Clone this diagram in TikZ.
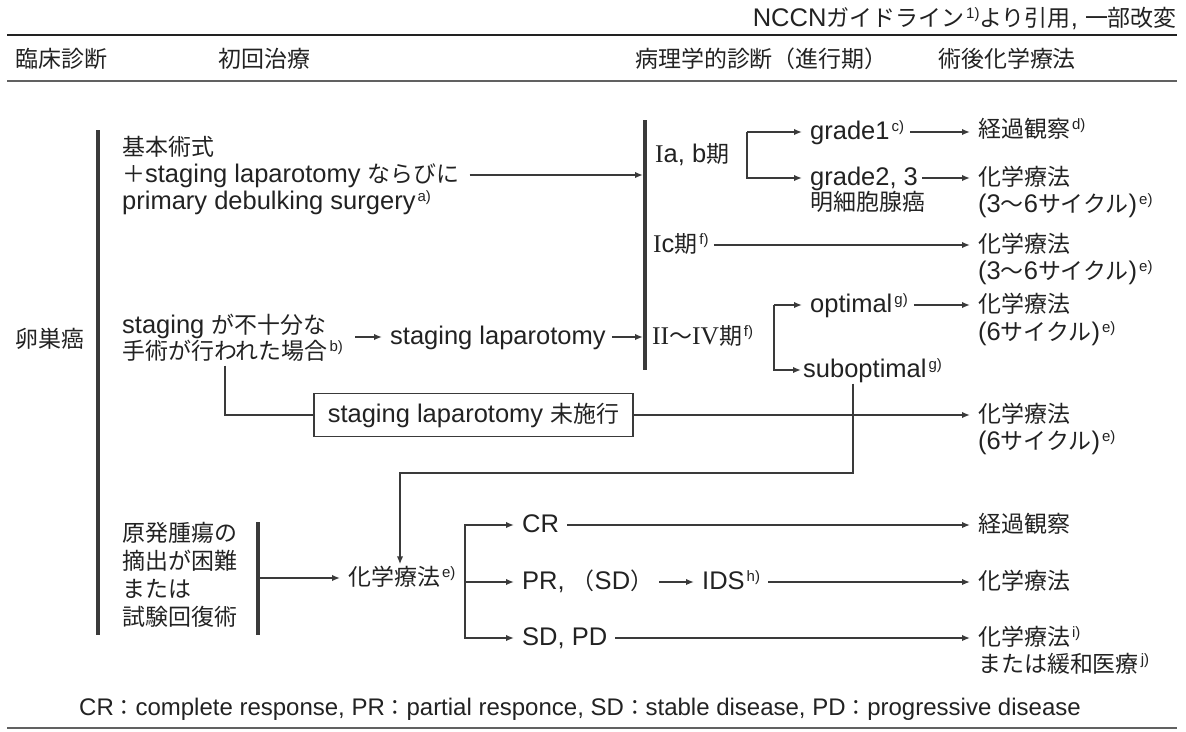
\documentclass[tikz,border=0pt]{standalone}
\usepackage{fontspec}
\setmainfont{Liberation Sans}
\newfontfamily\jp[Scale=0.9]{Noto Sans CJK JP}
\newfontfamily\ser{Liberation Serif}
\usetikzlibrary{arrows.meta}
\newcommand{\J}[1]{{\jp #1}}
\newcommand{\sups}[1]{\hspace{2pt}\raisebox{8pt}{\fontsize{15}{15}\selectfont #1}}
% cycle count label, e.g. (3~6 cycles)
\newcommand{\cyc}[1]{(#1\J{サイクル})\sups{e)}}
\definecolor{ink}{HTML}{222222}
\definecolor{wire}{HTML}{3A3A3A}
\tikzset{
  tx/.style={anchor=west, inner xsep=0pt, inner ysep=1pt, text height=20pt,
             text depth=5pt, text=ink, font=\fontsize{25.5}{30}\selectfont},
  arr/.style={draw=wire, line width=1.8pt, -{Latex[length=8pt,width=6.5pt]}},
  arrt/.style={arr, shorten >=8pt},
  ln/.style={draw=wire, line width=1.8pt},
  bar/.style={draw=wire, line width=3.5pt},
  rulethick/.style={draw=ink, line width=1.8pt},
  rulethin/.style={draw=wire!80, line width=1.1pt},
  framebox/.style={tx, draw=wire, line width=1.6pt, inner xsep=14pt,
                   minimum height=43pt}
}
\begin{document}
\begin{tikzpicture}[x=1pt,y=-1pt]
\useasboundingbox (0,0) rectangle (1186,731);

% --- header ---
\node[tx, anchor=east] (src) at (1177,19) {NCCN\J{ガイドライン}\sups{1)}\J{より引用}, \J{一部改変}};
\coordinate (rTL) at (7,35);  \coordinate (rTR) at (1177,35);
\coordinate (rML) at (7,81);  \coordinate (rMR) at (1177,81);
\coordinate (rBL) at (7,728); \coordinate (rBR) at (1177,728);
\draw[rulethick] (rTL) -- (rTR);
\draw[rulethin] (rML) -- (rMR);
\draw[rulethin] (rBL) -- (rBR);
\node[tx] (h1) at (15,60)  {\J{臨床診断}};
\node[tx] (h2) at (218,60) {\J{初回治療}};
\node[tx] (h3) at (635,60) {\J{病理学的診断（進行期）}};
\node[tx] (h4) at (938,60) {\J{術後化学療法}};

% --- clinical diagnosis ---
\node[tx] (ov) at (15,340) {\J{卵巣癌}};
\coordinate (b1t) at (98,130); \coordinate (b1b) at (98,635);
\draw[bar] (b1t) -- (b1b);

% --- primary treatment ---
\node[tx] (t1a) at (122,148) {\J{基本術式}};
\node[tx] (t1b) at (122,175) {\J{＋}staging laparotomy \J{ならびに}};
\node[tx] (t1c) at (122,202) {primary debulking surgery\sups{a)}};
\node[tx] (t2a) at (122,326) {staging \J{が不十分な}};
\node[tx] (t2b) at (122,352) {\J{手術が行われた場合}\sups{b)}};
\node[tx] (sl) at (390,337) {staging laparotomy};
\node[framebox] (bx) at (313,415) {staging laparotomy \J{未施行}};

\node[tx] (g3a) at (122,534) {\J{原発腫瘍の}};
\node[tx] (g3b) at (122,562) {\J{摘出が困難}};
\node[tx] (g3c) at (122,590) {\J{または}};
\node[tx] (g3d) at (122,618) {\J{試験回復術}};
\coordinate (b3t) at (258,522); \coordinate (b3b) at (258,635);
\draw[bar] (b3t) -- (b3b);
\node[tx] (ch) at (348,578) {\J{化学療法}\sups{e)}};

% --- pathological stage ---
\coordinate (b2t) at (645,120); \coordinate (b2b) at (645,370);
\coordinate (b2x) at (643,0);
\draw[bar] (b2t) -- (b2b);
\node[tx] (iab) at (655,155) {{\ser I}a, b\J{期}};
\node[tx] (ic)  at (653,245) {{\ser I}c\J{期}\sups{f)}};
\node[tx] (st)  at (652,337) {{\ser II}\J{〜}{\ser IV}\J{期}\sups{f)}};

\node[tx] (g1) at (810,132) {grade1\sups{c)}};
\node[tx] (g2) at (810,178) {grade2, 3};
\node[tx] (m1) at (810,203) {\J{明細胞腺癌}};
\node[tx] (op) at (810,305) {optimal\sups{g)}};
\node[tx] (so) at (803,370) {suboptimal\sups{g)}};

\node[tx] (cr)  at (522,525) {CR};
\node[tx] (pr)  at (522,582) {PR, \J{（}SD\J{）}};
\node[tx] (sd)  at (522,638) {SD, PD};
\node[tx] (ids) at (702,582) {IDS\sups{h)}};

% --- postoperative chemotherapy ---
\node[tx] (k1)  at (978,130) {\J{経過観察}\sups{d)}};
\node[tx] (c1a) at (978,178) {\J{化学療法}};
\node[tx] (c1b) at (978,205) {\cyc{3\J{〜}6}};
\node[tx] (c2a) at (978,245) {\J{化学療法}};
\node[tx] (c2b) at (978,272) {\cyc{3\J{〜}6}};
\node[tx] (c3a) at (978,305) {\J{化学療法}};
\node[tx] (c3b) at (978,333) {\cyc{6}};
\node[tx] (c4a) at (978,415) {\J{化学療法}};
\node[tx] (c4b) at (978,442) {\cyc{6}};
\node[tx] (k2)  at (978,525) {\J{経過観察}};
\node[tx] (c5)  at (978,582) {\J{化学療法}};
\node[tx] (c6a) at (978,638) {\J{化学療法}\sups{i)}};
\node[tx] (c6b) at (978,665) {\J{または緩和医療}\sups{j)}};

% --- footnote ---
\node[tx, anchor=center, font=\fontsize{24}{28}\selectfont] (fn) at (580,708)
  {CR\J{：}complete response, PR\J{：}partial responce, SD\J{：}stable disease, PD\J{：}progressive disease};

% --- connectors ---
\draw[arr, shorten <=10pt] (t1b.east) -- (t1b.east -| b2x);
\coordinate (a2s) at (355,337);
\draw[arrt] (a2s) -- (sl.west);
\draw[arr, shorten <=6pt] (sl.east) -- (sl.east -| b2x);
\coordinate (vx) at (225,0);
\draw[ln] (t2b.south -| vx) |- (bx.west);
\draw[arrt] (bx.east) -- (bx.east -| c4a.west);

\coordinate (bk1) at (747,132);
\draw[arrt] (bk1) -- (g1.west);
\draw[arrt] (bk1) |- (g2.west);
\draw[arrt, shorten <=6pt] (g1.east) -- (g1.east -| k1.west);
\draw[arrt, shorten <=4pt] (g2.east) -- (g2.east -| c1a.west);
\draw[arrt, shorten <=5pt] (ic.east) -- (ic.east -| c2a.west);

\coordinate (bk2) at (774,305);
\draw[arrt] (bk2) -- (op.west);
\draw[arrt, shorten >=2pt] (bk2) |- (so.west);
\draw[arrt, shorten <=6pt] (op.east) -- (op.east -| c3a.west);

\coordinate (sx) at (853,0);
\coordinate (cx) at (400,473);
\draw[arr] (so.south -| sx) |- (cx) -- (cx |- ch.north);

\coordinate (b3m) at (258,578);
\draw[arrt] (b3m) -- (ch.west);
\coordinate (bk3) at (465,582);
\draw[arrt] (bk3) -- (pr.west);
\draw[arrt] (bk3) |- (cr.west);
\draw[arrt] (bk3) |- (sd.west);
\draw[arrt, shorten <=8pt] (cr.east) -- (cr.east -| k2.west);
\draw[arrt, shorten <=6pt] (pr.east) -- (ids.west);
\draw[arrt, shorten <=8pt] (ids.east) -- (ids.east -| c5.west);
\draw[arrt, shorten <=8pt] (sd.east) -- (sd.east -| c6a.west);
\end{tikzpicture}
\end{document}
